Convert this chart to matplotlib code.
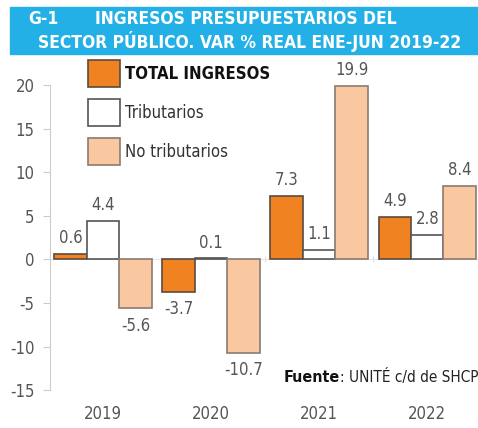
import numpy as np
import matplotlib.pyplot as plt
from matplotlib.patches import Patch

# Data
years = ['2019', '2020', '2021', '2022']
total_ingresos = [0.6, -3.7, 7.3, 4.9]
tributarios = [4.4, 0.1, 1.1, 2.8]
no_tributarios = [-5.6, -10.7, 19.9, 8.4]

series_names = ['TOTAL INGRESOS', 'Tributarios', 'No tributarios']
colors = ['#F08221', '#FFFFFF', '#F9C8A0']
edges = ['#5a4a3e', '#555555', '#8a7a70']

plt.rcParams['font.family'] = ['DejaVu Sans']
plt.rcParams['font.stretch'] = 'condensed'
plt.rcParams['axes.unicode_minus'] = False
grey = '#555555'

fig = plt.figure(figsize=(4.78, 4.28), dpi=100)

# title band
fig.patches.append(plt.Rectangle((10 / 478, 1 - 54 / 428), 1, 47 / 428,
                                 transform=fig.transFigure, color='#22B0E6', zorder=0))
fig.text(28 / 478, 1 - 19 / 428, 'G-1', color='white', fontsize=12.5,
         fontweight='bold', va='center')
fig.text(95 / 478, 1 - 19 / 428, 'INGRESOS PRESUPUESTARIOS DEL', color='white',
         fontsize=12.5, fontweight='bold', va='center')
fig.text(38 / 478, 1 - 41 / 428, 'SECTOR PÚBLICO. VAR % REAL ENE-JUN 2019-22',
         color='white', fontsize=12.5, fontweight='bold', va='center')

ax = fig.add_axes([50 / 478, 1 - 398 / 428, 1 - 50 / 478, (398 - 57) / 428])
ax.set_xlim(-0.49, 3.47)
ax.set_ylim(-15.9, 23.2)

x = np.arange(len(years))
w = 0.3
all_series = [total_ingresos, tributarios, no_tributarios]
for i, vals in enumerate(all_series):
    ec = edges[i]
    bars = ax.bar(x + (i - 1) * w, vals, w, color=colors[i], edgecolor=ec,
                  linewidth=1.2, label=series_names[i], zorder=3)
    for b, v in zip(bars, vals):
        cx = b.get_x() + b.get_width() / 2
        if v >= 0:
            ax.annotate(f'{v:.1f}', (cx, v), xytext=(0, 5), textcoords='offset points',
                        ha='center', va='bottom', color=grey, fontsize=12)
        else:
            ax.annotate(f'{v:.1f}', (cx, v), xytext=(0, -6), textcoords='offset points',
                        ha='center', va='top', color=grey, fontsize=12)

ax.axhline(0, color='#e6e6e6', linewidth=0.8, zorder=1)

for s in ['top', 'right', 'bottom']:
    ax.spines[s].set_visible(False)
ax.spines['left'].set_color('#cccccc')
ax.spines['left'].set_bounds(-15, 20)
ax.set_yticks(range(-15, 21, 5))
ax.tick_params(axis='y', colors='#cccccc', length=5, labelcolor=grey, labelsize=12, pad=6)
ax.set_xticks(x)
ax.set_xticklabels(years)
ax.tick_params(axis='x', length=0, labelcolor=grey, labelsize=12, pad=5)

# small boundary ticks on the zero line
ylo, yhi = ax.get_ylim()
sec = ax.secondary_xaxis((0 - ylo) / (yhi - ylo))
sec.set_xticks([1.5, 2.5])
sec.set_xticklabels([])
sec.spines['bottom'].set_visible(False)
sec.tick_params(length=4, color='#dddddd', direction='inout')

handles = [Patch(facecolor=colors[i], edgecolor=edges[i], linewidth=1.2) for i in range(3)]
leg = ax.legend(handles, series_names, loc='upper left', bbox_to_anchor=(38 / 428, 0.99),
                frameon=False, borderpad=0, borderaxespad=0, handlelength=1.9,
                handleheight=2.1, labelspacing=0.72, handletextpad=0.3, fontsize=12)
txts = leg.get_texts()
txts[0].set_fontweight('bold')
txts[0].set_color('#111111')
txts[1].set_color('#333333')
txts[2].set_color('#333333')

src = fig.text(284 / 478, 1 - 377 / 428, 'Fuente', fontweight='bold', color='#111111',
               fontsize=11.5, va='center')
ax.annotate(': UNITÉ c/d de SHCP', xy=(1, 0.5), xycoords=src, va='center',
            color='#222222', fontsize=11, annotation_clip=False)

fig.savefig('out.png', dpi=100)
